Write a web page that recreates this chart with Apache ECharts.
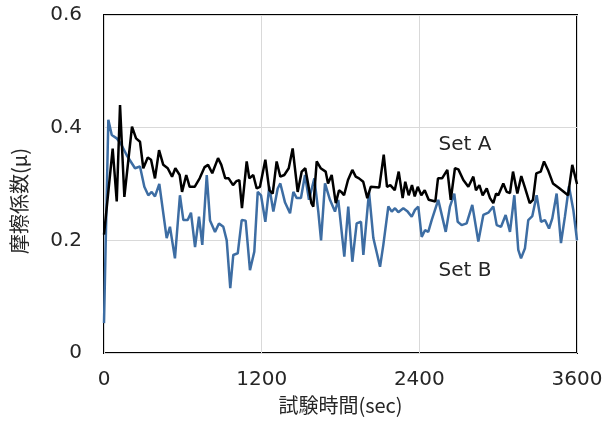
<!DOCTYPE html>
<html>
<head>
<meta charset="utf-8">
<script src="https://cdn.jsdelivr.net/npm/echarts@6/dist/echarts.min.js"></script>
<style>html,body{margin:0;padding:0;background:#fff}#c{width:606px;height:435px}</style>
</head>
<body>
<div id="c"></div>
<script>
// Set A (black)
var timeA = [0,66,97,122,155,213,244,274,299,333,358,388,419,451,485,518,543,576,594,626,652,690,728,766,792,824,868,893,923,949,982,1007,1030,1050,1086,1106,1136,1162,1187,1228,1258,1284,1314,1342,1372,1406,1436,1474,1505,1532,1553,1578,1593,1619,1649,1687,1705,1733,1764,1789,1806,1827,1857,1890,1916,1941,1973,2004,2030,2095,2129,2154,2179,2213,2243,2273,2293,2319,2344,2365,2388,2415,2441,2471,2522,2542,2573,2583,2613,2639,2671,2697,2735,2773,2811,2831,2857,2882,2913,2938,2963,2984,3001,3039,3065,3090,3113,3146,3176,3202,3240,3265,3290,3324,3349,3379,3417,3468,3532,3564,3600];
var valA = [0.21,0.363,0.269,0.44,0.277,0.402,0.381,0.375,0.328,0.347,0.343,0.31,0.36,0.334,0.328,0.313,0.328,0.316,0.286,0.316,0.295,0.295,0.31,0.33,0.334,0.319,0.346,0.334,0.31,0.31,0.298,0.305,0.307,0.257,0.34,0.31,0.316,0.292,0.295,0.343,0.289,0.283,0.34,0.313,0.316,0.328,0.363,0.286,0.322,0.328,0.301,0.266,0.26,0.34,0.328,0.322,0.301,0.316,0.266,0.289,0.286,0.28,0.307,0.325,0.313,0.31,0.304,0.275,0.295,0.294,0.352,0.295,0.298,0.289,0.322,0.275,0.304,0.28,0.298,0.278,0.295,0.28,0.289,0.272,0.269,0.31,0.31,0.307,0.325,0.272,0.328,0.326,0.307,0.295,0.313,0.289,0.298,0.28,0.292,0.275,0.266,0.283,0.28,0.301,0.286,0.284,0.322,0.283,0.314,0.295,0.266,0.272,0.319,0.322,0.34,0.325,0.301,0.292,0.28,0.334,0.3];
// Set B (blue)
var timeB = [0,33,59,97,127,173,236,274,307,337,363,388,421,477,502,540,578,604,637,662,693,723,748,782,807,845,875,908,934,961,984,1018,1048,1078,1111,1144,1170,1195,1228,1258,1289,1322,1342,1378,1416,1441,1467,1499,1530,1560,1601,1631,1652,1682,1720,1758,1783,1829,1859,1890,1923,1956,1974,2017,2050,2101,2126,2164,2190,2215,2240,2278,2311,2342,2367,2392,2418,2443,2468,2494,2544,2565,2601,2633,2666,2692,2722,2760,2803,2849,2887,2925,2963,2989,3022,3057,3090,3123,3153,3174,3204,3229,3260,3293,3326,3356,3387,3412,3445,3478,3508,3539,3572,3600];
var valB = [0.053,0.414,0.387,0.381,0.372,0.351,0.328,0.331,0.295,0.28,0.286,0.278,0.3,0.204,0.224,0.168,0.28,0.236,0.236,0.249,0.188,0.242,0.192,0.316,0.235,0.215,0.23,0.224,0.2,0.115,0.174,0.177,0.236,0.235,0.147,0.18,0.286,0.28,0.233,0.295,0.251,0.292,0.301,0.267,0.248,0.286,0.275,0.275,0.316,0.272,0.31,0.251,0.2,0.301,0.272,0.251,0.272,0.171,0.26,0.162,0.23,0.233,0.174,0.286,0.204,0.153,0.192,0.26,0.251,0.257,0.25,0.257,0.251,0.242,0.254,0.26,0.206,0.218,0.215,0.236,0.272,0.251,0.215,0.26,0.283,0.233,0.227,0.23,0.263,0.198,0.245,0.249,0.26,0.227,0.224,0.245,0.215,0.28,0.183,0.168,0.186,0.236,0.243,0.28,0.233,0.236,0.221,0.239,0.283,0.195,0.242,0.296,0.254,0.2];
var xTicks = [0, 1200, 2400, 3600];
var yTicks = [0, 0.2, 0.4, 0.6];
var seriesNames = ['Set A', 'Set B'];
var xName = '試験時間(sec)';
var yName = '摩擦係数(μ)';

function pairs(t, v) { return t.map(function (x, i) { return [x, v[i]]; }); }

var chart = echarts.init(document.getElementById('c'), null, {renderer: 'canvas'});
var font = '"DejaVu Sans", "Noto Sans CJK JP", sans-serif';
var cjk = '"Noto Sans CJK JP", "DejaVu Sans", sans-serif';
chart.setOption({
  animation: false,
  backgroundColor: '#fff',
  grid: {left: 104, right: 29, top: 15, bottom: 82, show: true, borderColor: '#000', borderWidth: 2, backgroundColor: 'transparent'},
  xAxis: {
    type: 'value', min: xTicks[0], max: xTicks[xTicks.length - 1], interval: xTicks[1] - xTicks[0],
    axisLine: {show: false}, axisTick: {show: false},
    splitLine: {show: true, lineStyle: {color: '#d9d9d9', width: 1}},
    axisLabel: {color: '#262626', fontSize: 20, fontFamily: font, margin: 17, formatter: function (v) { return String(v); }},
    name: xName, nameLocation: 'middle', nameGap: 42,
    nameTextStyle: {color: '#262626', fontSize: 20, fontFamily: cjk}
  },
  yAxis: {
    type: 'value', min: yTicks[0], max: yTicks[yTicks.length - 1], interval: yTicks[1] - yTicks[0],
    axisLine: {show: false}, axisTick: {show: false},
    splitLine: {show: true, lineStyle: {color: '#d9d9d9', width: 1}},
    axisLabel: {color: '#262626', fontSize: 20, fontFamily: font, margin: 22, formatter: function (v) { return String(v); }}
  },
  graphic: [
    {type: 'text', x: 19, y: 201, rotation: Math.PI / 2, style: {text: yName, fill: '#262626', font: '20px ' + cjk, textAlign: 'center', textVerticalAlign: 'middle'}},
    {type: 'text', x: 465, y: 145, style: {text: seriesNames[0], fill: '#262626', font: '20px ' + font, textAlign: 'center', textVerticalAlign: 'middle'}},
    {type: 'text', x: 465, y: 271, style: {text: seriesNames[1], fill: '#262626', font: '20px ' + font, textAlign: 'center', textVerticalAlign: 'middle'}}
  ],
  series: [
    {name: seriesNames[1], type: 'line', data: pairs(timeB, valB), showSymbol: false, lineStyle: {color: '#3d6da3', width: 2.5}, z: 2},
    {name: seriesNames[0], type: 'line', data: pairs(timeA, valA), showSymbol: false, lineStyle: {color: '#000', width: 2.5}, z: 3}
  ]
});
</script>
</body>
</html>
